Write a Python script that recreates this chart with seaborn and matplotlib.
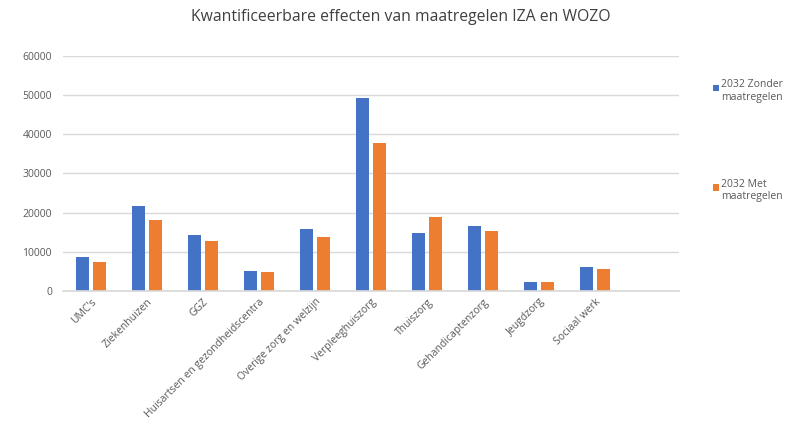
import matplotlib
matplotlib.use("Agg")
import matplotlib.pyplot as plt
import seaborn as sns
import pandas as pd
from matplotlib.patches import Patch, Rectangle
from matplotlib.legend_handler import HandlerPatch

categories = ["UMC's", "Ziekenhuizen", "GGZ", "Huisartsen en gezondheidscentra",
              "Overige zorg en welzijn", "Verpleeghuiszorg", "Thuiszorg",
              "Gehandicaptenzorg", "Jeugdzorg", "Sociaal werk"]
zonder = [8700, 21700, 14200, 5000, 15700, 49400, 14700, 16500, 2400, 6000]
met = [7300, 18000, 12700, 4800, 13800, 37700, 18800, 15200, 2400, 5500]
series_names = ["2032 Zonder\nmaatregelen", "2032 Met\nmaatregelen"]
colors = ["#4472C4", "#ED7D31"]
yticks = [0, 10000, 20000, 30000, 40000, 50000, 60000]

df = pd.DataFrame({
    "cat": categories * 2,
    "val": zonder + met,
    "serie": [series_names[0]] * len(categories) + [series_names[1]] * len(categories),
})

sns.set_theme(style="white")
plt.rcParams["font.family"] = ["Open Sans", "DejaVu Sans"]

fig = plt.figure(figsize=(7.99, 4.26), dpi=100)
ax = fig.add_axes([0.0789, 0.317, 0.771, 0.5515])

sns.barplot(data=df, x="cat", y="val", hue="serie", order=categories,
            hue_order=series_names, palette=colors,
            width=0.6, gap=0.25, saturation=1, linewidth=0, ax=ax, legend=False)

ax.set_xlim(-0.5, 10.5)
ax.set_ylim(0, 60000)
ax.set_yticks(yticks)
ax.set_yticklabels([str(v) for v in yticks])
ax.yaxis.grid(True, color="#d9d9d9", linewidth=1)
ax.set_axisbelow(True)
for s in ["top", "right", "left"]:
    ax.spines[s].set_visible(False)
ax.spines["bottom"].set_color("#d9d9d9")
ax.set_xlabel("")
ax.set_ylabel("")
ax.tick_params(axis="y", colors="#595959", labelsize=7.5, length=0, pad=8)
ax.tick_params(axis="x", colors="#595959", labelsize=7.5, length=0, pad=4)
for lbl in ax.get_xticklabels():
    lbl.set_rotation(45)
    lbl.set_ha("right")
    lbl.set_rotation_mode("anchor")

fig.suptitle("Kwantificeerbare effecten van maatregelen IZA en WOZO",
             x=0.502, y=0.978, fontsize=11.3, color="#404040", va="top")


def top_square(legend, orig_handle, xdescent, ydescent, width, height, fontsize):
    s = fontsize * 0.62
    return Rectangle((-xdescent + 2, -ydescent + height - s - fontsize * 0.25), s, s)


handles = [Patch(facecolor=c, edgecolor="none") for c in colors]
leg = ax.legend(handles, series_names, loc="upper left", bbox_to_anchor=(1.035, 0.942),
                frameon=False, fontsize=7.5, labelspacing=7.3, handlelength=0.9,
                handleheight=2.4, handletextpad=0.15, labelcolor="#595959",
                handler_map={Patch: HandlerPatch(patch_func=top_square)})

fig.savefig("out.png", dpi=100)
